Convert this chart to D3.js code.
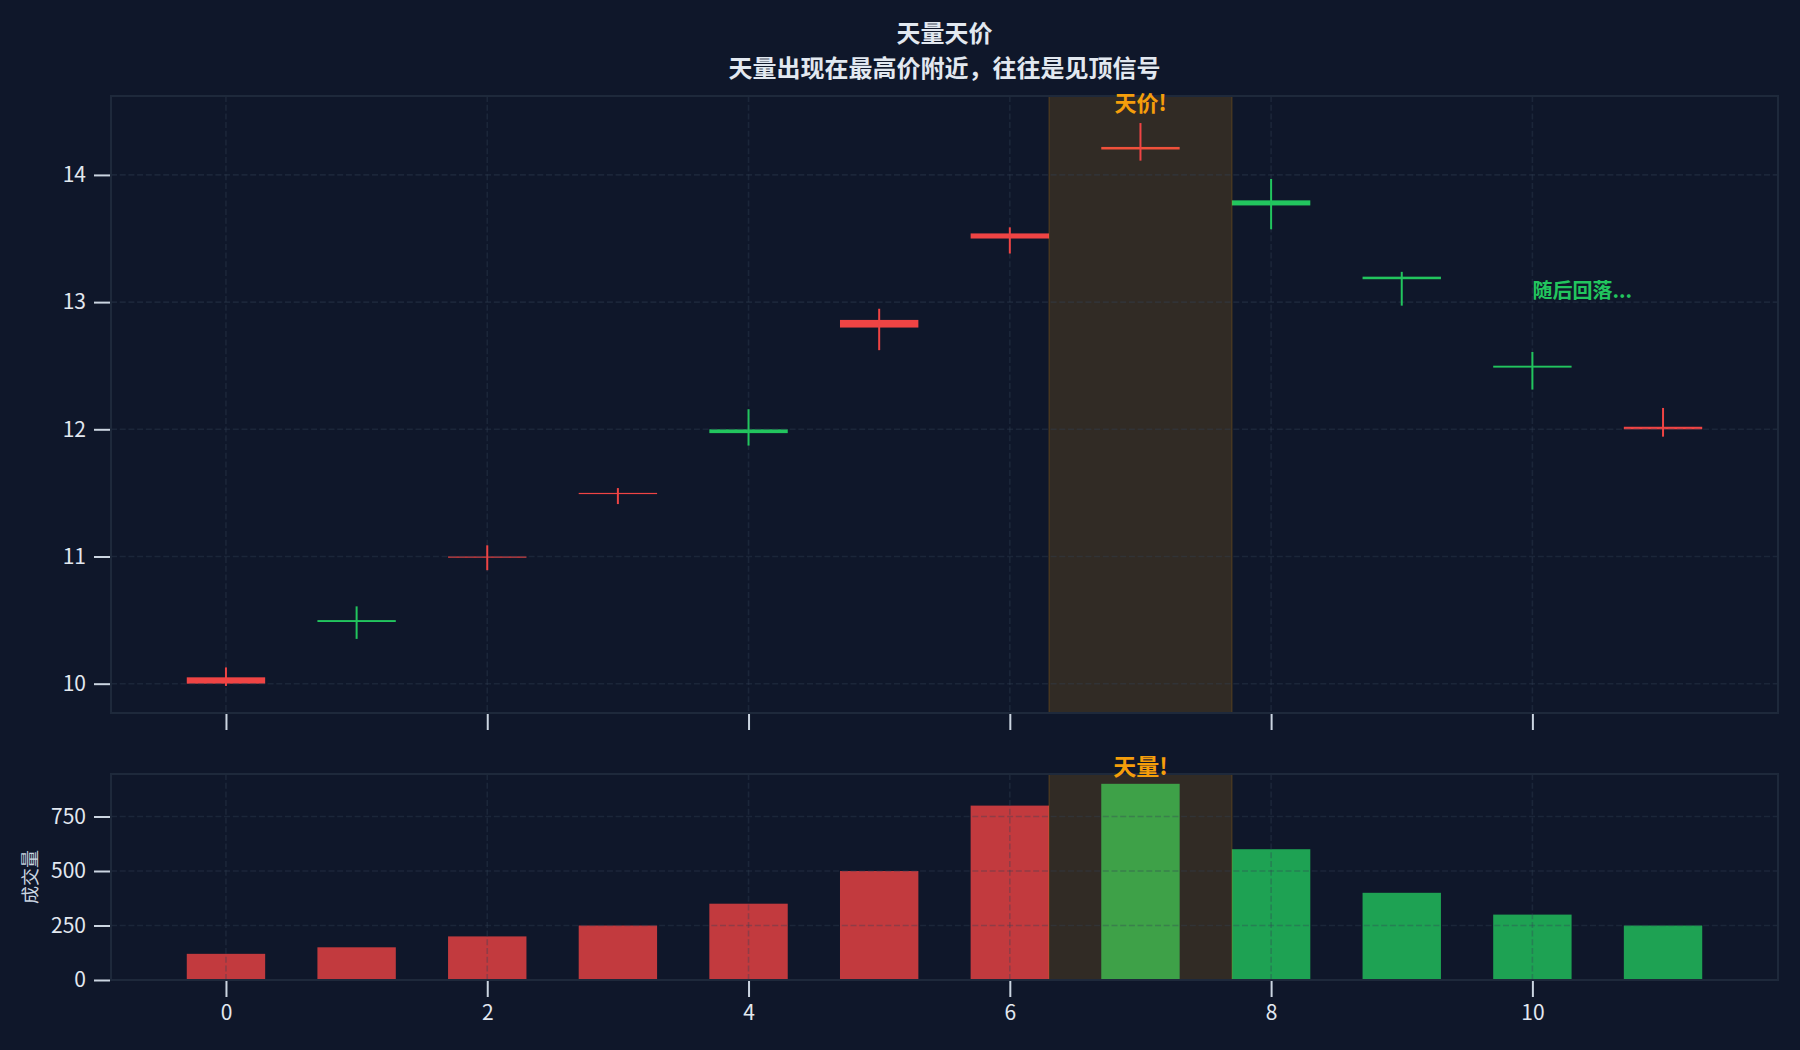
<!DOCTYPE html>
<html lang="zh">
<head>
    <meta charset="UTF-8">
    <title>天量天价</title>
    <script src="https://cdn.jsdelivr.net/npm/d3@7"></script>
    <style>
        body { margin: 0; background: #0f172a; }
        text { font-family: "Noto Sans CJK SC", "Noto Sans", sans-serif; }
    </style>
</head>
<body>
<svg id="main" width="1800" height="1050"></svg>
<script>
    // candle data (day index on x)
    let days = [0, 1, 2, 3, 4, 5, 6, 7, 8, 9, 10, 11];
    let opens  = [10.00, 10.50, 11.00, 11.50, 12.00, 12.80, 13.50, 14.20, 13.80, 13.20, 12.50, 12.00];
    let closes = [10.05, 10.485, 11.00, 11.50, 11.97, 12.86, 13.54, 14.22, 13.76, 13.18, 12.485, 12.02];
    let highs  = [10.12, 10.60, 11.08, 11.53, 12.15, 12.94, 13.58, 14.40, 13.96, 13.23, 12.60, 12.16];
    let lows   = [9.99, 10.36, 10.90, 11.42, 11.88, 12.63, 13.39, 14.12, 13.58, 12.98, 12.32, 11.95];
    // volume and its colour direction
    let volumes = [120, 150, 200, 250, 350, 500, 800, 900, 600, 400, 300, 250];
    let volDir = ['up', 'up', 'up', 'up', 'up', 'up', 'up', 'down', 'down', 'down', 'down', 'down'];
    // tick values
    let xTicks = [0, 2, 4, 6, 8, 10];
    let priceTicks = [10, 11, 12, 13, 14];
    let volTicks = [0, 250, 500, 750];
    // highlight span and notes
    let spanX = [6.3, 7.7];
    let titleLines = ['天量天价', '天量出现在最高价附近，往往是见顶信号'];
    let notePrice = {x: 7, y: 14.58, text: '天价!'};
    let noteVol = {x: 7, y: 985, text: '天量!'};
    let noteFall = {x: 10, y: 13.1, text: '随后回落...'};

    let bg = '#0f172a', up = '#ef4444', down = '#22c55e', orange = '#f59e0b';
    let spine = '#1e293b', tickCol = '#cbd5e1', labelCol = '#e2e8f0';
    let barW = 0.6;

    let svg = d3.select('svg#main');
    svg.append('rect').attr('width', 1800).attr('height', 1050).attr('fill', bg);

    let left = 111, right = 1778;
    let top1 = 96, bot1 = 713;
    let top2 = 774, bot2 = 980;

    // x domain = bar extent + 5% margins (like matplotlib)
    let xMin = d3.min(days) - barW / 2, xMax = d3.max(days) + barW / 2;
    let xPad = (xMax - xMin) * 0.05;
    let x = d3.scaleLinear().domain([xMin - xPad, xMax + xPad]).range([left, right]);

    let pMin = d3.min(lows), pMax = d3.max(highs);
    let pPad = (pMax - pMin) * 0.05;
    let yP = d3.scaleLinear().domain([pMin - pPad, pMax + pPad]).range([bot1, top1]);
    let yV = d3.scaleLinear().domain([0, d3.max(volumes) * 1.05]).range([bot2, top2]);

    let data = days.map(function (d, i) {
        return {d: d, o: opens[i], c: closes[i], h: highs[i], l: lows[i], v: volumes[i], vd: volDir[i]};
    });

    function grid(g, yScale, yTicks, y0, y1) {
        g.selectAll('line.gx').data(xTicks).enter().append('line')
            .attr('x1', function (d) { return x(d); }).attr('x2', function (d) { return x(d); })
            .attr('y1', y0).attr('y2', y1);
        g.selectAll('line.gy').data(yTicks).enter().append('line')
            .attr('y1', function (d) { return yScale(d); }).attr('y2', function (d) { return yScale(d); })
            .attr('x1', left).attr('x2', right);
        g.selectAll('line')
            .attr('stroke', '#334155').attr('stroke-opacity', 0.35)
            .attr('stroke-width', 1.6).attr('stroke-dasharray', '6,2.7');
    }

    function span(g, y0, y1) {
        g.append('rect')
            .attr('x', x(spanX[0])).attr('width', x(spanX[1]) - x(spanX[0]))
            .attr('y', y0).attr('height', y1 - y0)
            .attr('fill', orange).attr('fill-opacity', 0.15)
            .attr('stroke', orange).attr('stroke-opacity', 0.12).attr('stroke-width', 2);
    }

    function frame(yScale, yTicks, y0, y1, showX) {
        svg.append('rect').attr('x', left).attr('y', y0)
            .attr('width', right - left).attr('height', y1 - y0)
            .attr('fill', 'none').attr('stroke', spine).attr('stroke-width', 2);
        let ya = svg.append('g').attr('transform', 'translate(' + (left - 1) + ',0)')
            .call(d3.axisLeft(yScale).tickValues(yTicks).tickSize(16).tickPadding(8)
                .tickFormat(d3.format('d')));
        let xa = svg.append('g').attr('transform', 'translate(0,' + (y1 + 1) + ')')
            .call(d3.axisBottom(x).tickValues(xTicks).tickSize(16).tickPadding(8)
                .tickFormat(showX ? d3.format('d') : ''));
        [ya, xa].forEach(function (a) {
            a.select('.domain').remove();
            a.selectAll('line').attr('stroke', tickCol).attr('stroke-width', 2);
            a.selectAll('text').attr('fill', labelCol).style('font-size', '21px')
                .style('font-family', '"Noto Sans CJK SC", "Noto Sans", sans-serif');
        });
    }

    // ---- price panel
    let g1 = svg.append('g');
    g1.selectAll('rect.body').data(data).enter().append('rect')
        .attr('class', 'body')
        .attr('x', function (d) { return x(d.d - barW / 2); })
        .attr('width', x(barW) - x(0))
        .attr('y', function (d) { return yP(Math.max(d.o, d.c)); })
        .attr('height', function (d) { return Math.max(1.2, Math.abs(yP(d.o) - yP(d.c))); })
        .attr('fill', function (d) { return d.c >= d.o ? up : down; });
    span(g1, top1, bot1);
    grid(svg.append('g'), yP, priceTicks, top1, bot1);
    svg.append('g').selectAll('line').data(data).enter().append('line')
        .attr('x1', function (d) { return x(d.d); }).attr('x2', function (d) { return x(d.d); })
        .attr('y1', function (d) { return yP(d.h); }).attr('y2', function (d) { return yP(d.l); })
        .attr('stroke', function (d) { return d.c >= d.o ? up : down; })
        .attr('stroke-width', 2).attr('stroke-linecap', 'square');
    frame(yP, priceTicks, top1, bot1, false);

    // ---- volume panel
    let g2 = svg.append('g');
    g2.selectAll('rect').data(data).enter().append('rect')
        .attr('x', function (d) { return x(d.d - barW / 2); })
        .attr('width', x(barW) - x(0))
        .attr('y', function (d) { return yV(d.v); })
        .attr('height', function (d) { return yV(0) - yV(d.v); })
        .attr('fill', function (d) { return d.vd === 'up' ? up : down; })
        .attr('fill-opacity', 0.8);
    span(g2, top2, bot2);
    grid(svg.append('g'), yV, volTicks, top2, bot2);
    frame(yV, volTicks, top2, bot2, true);

    svg.append('text').text('成交量')
        .attr('transform', 'translate(29,' + ((top2 + bot2) / 2) + ') rotate(-90)')
        .attr('text-anchor', 'middle').attr('dominant-baseline', 'central')
        .attr('fill', tickCol).style('font-size', '18px');

    // ---- title and notes
    let cx = (left + right) / 2;
    svg.selectAll('text.title').data(titleLines).enter().append('text')
        .attr('class', 'title')
        .attr('x', cx).attr('y', function (d, i) { return 31 + i * 35.5; })
        .attr('text-anchor', 'middle').attr('dominant-baseline', 'central')
        .attr('fill', labelCol).style('font-size', '24px').style('font-weight', 'bold')
        .text(function (d) { return d; });

    svg.append('text').text(notePrice.text)
        .attr('x', x(notePrice.x)).attr('y', yP(notePrice.y))
        .attr('text-anchor', 'middle').attr('dominant-baseline', 'central')
        .attr('fill', orange).style('font-size', '22px').style('font-weight', 'bold');
    svg.append('text').text(noteVol.text)
        .attr('x', x(noteVol.x)).attr('y', yV(noteVol.y))
        .attr('text-anchor', 'middle').attr('dominant-baseline', 'central')
        .attr('fill', orange).style('font-size', '23px').style('font-weight', 'bold');
    svg.append('text').text(noteFall.text)
        .attr('x', x(noteFall.x)).attr('y', yP(noteFall.y))
        .attr('text-anchor', 'start').attr('dominant-baseline', 'central')
        .attr('fill', down).style('font-size', '20px').style('font-weight', 'bold');
</script>
</body>
</html>
